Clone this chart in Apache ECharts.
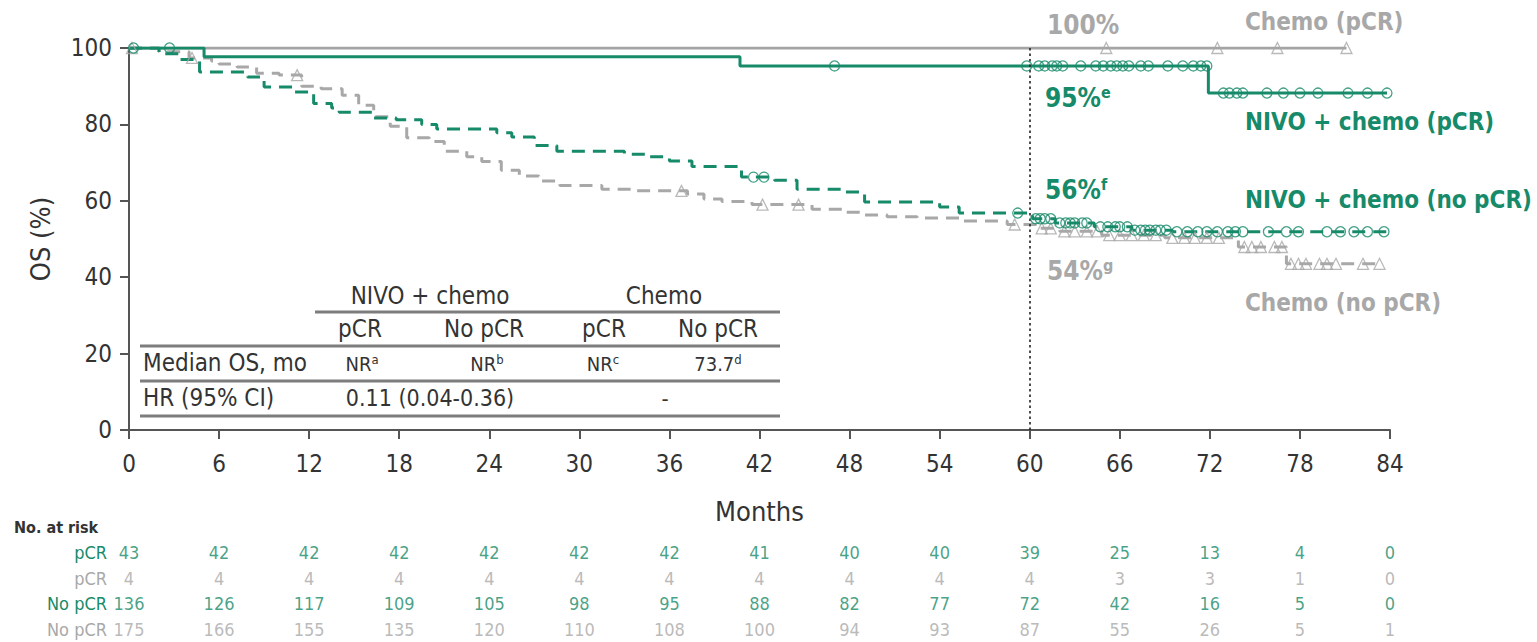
<!DOCTYPE html>
<html>
<head>
<meta charset="utf-8">
<script src="https://cdn.jsdelivr.net/npm/echarts@6/dist/echarts.min.js"></script>
<style>
html,body{margin:0;padding:0;background:#fff;}
#chart{width:1537px;height:642px;}
</style>
</head>
<body>
<div id="chart"></div>
<script>
// ---------------- DATA ----------------
const xTicks = [0, 6, 12, 18, 24, 30, 36, 42, 48, 54, 60, 66, 72, 78, 84];
const yTicks = [0, 20, 40, 60, 80, 100];

// Kaplan-Meier step curves (month of event, OS % after event)
const nivoPcrTime = [0, 5.0, 40.7, 71.9, 83.8];
const nivoPcrOS   = [100, 97.7, 95.3, 88.2, 88.2];

const chemoPcrTime = [0, 81.1];
const chemoPcrOS   = [100, 100];

const nivoNoTime = [0, 2.0, 3.3, 4.7, 7.9, 9.0, 11.0, 12.3, 13.5, 14.0, 16.3, 17.8, 19.5, 20.5, 24.5, 25.5, 27.0, 28.5, 33.0, 34.5, 36.0, 37.5, 40.8, 43.0, 44.5, 47.5, 49.0, 54.0, 55.3, 60.2, 61.7, 64.3, 66.8, 69.5, 83.8];
const nivoNoOS   = [100, 98.5, 97.0, 93.7, 92.4, 89.8, 88.5, 85.5, 84.3, 83.2, 81.7, 81.2, 80.0, 78.8, 77.8, 76.7, 74.5, 73.0, 72.2, 71.5, 70.4, 69.0, 66.2, 65.4, 63.0, 62.3, 59.7, 58.4, 56.8, 55.3, 54.2, 53.2, 52.3, 51.9, 51.9];

const chemoNoTime = [0, 2.0, 4.0, 5.5, 6.0, 7.2, 8.5, 10.0, 11.5, 12.8, 14.2, 15.3, 16.3, 17.4, 18.5, 20.0, 21.0, 22.5, 23.5, 24.8, 26.0, 27.3, 28.7, 31.5, 33.5, 37.2, 38.3, 39.5, 41.5, 45.5, 47.5, 49.0, 50.5, 52.5, 55.3, 58.5, 60.5, 62.0, 64.8, 69.0, 73.9, 77.1, 83.3];
const chemoNoOS   = [100, 99.0, 97.4, 96.6, 95.8, 95.0, 93.4, 92.9, 90.0, 89.3, 87.6, 85.0, 82.0, 79.5, 76.5, 75.5, 73.0, 71.5, 70.3, 68.0, 66.5, 65.2, 64.0, 63.0, 62.6, 61.8, 60.5, 59.8, 59.0, 57.8, 57.0, 56.3, 55.8, 55.5, 54.7, 53.8, 52.8, 52.0, 51.0, 50.3, 47.9, 43.5, 43.5];

// Censor marks [month, OS %]
const nivoPcrCensor = [[0.3,100],[2.7,100],[47.0,95.3],[59.8,95.3],[60.6,95.3],[61.0,95.3],[61.5,95.3],[61.8,95.3],[62.2,95.3],[63.4,95.3],[64.4,95.3],[64.9,95.3],[65.4,95.3],[65.8,95.3],[66.2,95.3],[66.6,95.3],[67.4,95.3],[67.9,95.3],[69.2,95.3],[70.2,95.3],[70.9,95.3],[71.4,95.3],[71.8,95.3],[72.9,88.2],[73.3,88.2],[73.8,88.2],[74.2,88.2],[75.8,88.2],[76.9,88.2],[78.0,88.2],[79.2,88.2],[81.2,88.2],[82.5,88.2],[83.8,88.2]];
const chemoPcrCensor = [[65.1,100],[72.5,100],[76.5,100],[81.1,100]];
const nivoNoCensor = [[41.6,66.2],[42.3,66.2],[59.2,56.8],[60.4,55.3],[60.7,55.3],[61.0,55.3],[61.4,55.3],[62.0,54.2],[62.4,54.2],[62.7,54.2],[63.0,54.2],[63.5,54.2],[63.8,54.2],[64.7,53.2],[65.2,53.2],[65.7,53.2],[66.0,53.2],[66.5,53.2],[67.0,52.3],[67.4,52.3],[67.7,52.3],[68.0,52.3],[68.4,52.3],[68.7,52.3],[69.1,52.3],[69.8,51.9],[70.5,51.9],[71.2,51.9],[71.8,51.9],[72.5,51.9],[73.2,51.9],[73.7,51.9],[74.2,51.9],[75.9,51.9],[77.1,51.9],[77.9,51.9],[79.8,51.9],[80.7,51.9],[81.6,51.9],[82.5,51.9],[83.6,51.9]];
const chemoNoCensor = [[0.2,100],[4.2,97.4],[11.2,92.9],[36.8,62.6],[42.2,59.0],[44.6,59.0],[59.0,53.8],[60.8,52.8],[61.4,52.8],[62.3,52.0],[63.0,52.0],[63.8,52.0],[64.5,52.0],[65.3,51.0],[66.0,51.0],[66.8,51.0],[67.6,51.0],[68.4,51.0],[69.5,50.3],[70.3,50.3],[71.0,50.3],[71.8,50.3],[72.6,50.3],[74.3,47.9],[74.8,47.9],[75.4,47.9],[76.3,47.9],[76.8,47.9],[77.4,43.5],[77.9,43.5],[78.4,43.5],[79.3,43.5],[79.8,43.5],[80.4,43.5],[82.2,43.5],[83.3,43.5]];

// Number at risk
const riskRows = ['nivoPcr', 'chemoPcr', 'nivoNo', 'chemoNo'];
const riskRowLabels = ['pCR', 'pCR', 'No pCR', 'No pCR'];
const nivoPcrRisk  = [43, 42, 42, 42, 42, 42, 42, 41, 40, 40, 39, 25, 13, 4, 0];
const chemoPcrRisk = [4, 4, 4, 4, 4, 4, 4, 4, 4, 4, 4, 3, 3, 1, 0];
const nivoNoRisk   = [136, 126, 117, 109, 105, 98, 95, 88, 82, 77, 72, 42, 16, 5, 0];
const chemoNoRisk  = [175, 166, 155, 135, 120, 110, 108, 100, 94, 93, 87, 55, 26, 5, 1];

// Landmark
const landmarkMonth = 60;

// ---------------- STYLE ----------------
const GREEN = '#178a69';
const GRAY = '#a8a8a8';
const DARK = '#333333';
const FF = "'DejaVu Sans Condensed', 'DejaVu Sans', sans-serif";

const pairs = (t, v) => t.map((x, i) => [x, v[i]]);

function kmLine(name, data, color, dashed, z) {
  return {
    name, type: 'line', xAxisIndex: 0, yAxisIndex: 0,
    data, step: 'end', symbol: 'none', z,
    lineStyle: { color, width: 3, type: dashed ? [13, 8] : 'solid' },
    silent: true
  };
}
function censor(name, data, color, symbol, size) {
  return {
    name, type: 'scatter', xAxisIndex: 0, yAxisIndex: 0,
    data, symbol, symbolSize: size, z: 5, silent: true,
    itemStyle: { color: 'rgba(255,255,255,0)', borderColor: color, borderWidth: 1.3 }
  };
}
function riskSeries(row, counts, color) {
  return {
    type: 'scatter', xAxisIndex: 1, yAxisIndex: 1, silent: true,
    data: xTicks.map((m, i) => [m, row, counts[i]]),
    symbolSize: 1, itemStyle: { color: 'rgba(0,0,0,0)' },
    label: {
      show: true, position: 'inside', formatter: p => String(p.value[2]),
      color, fontSize: 18, fontFamily: FF, fontWeight: 'normal'
    }
  };
}

function txt(x, y, text, color, size, weight, align, rich) {
  const st = { text, x, y, fill: color, fontSize: size, fontFamily: FF, fontWeight: weight || 'normal',
               align: align || 'left', verticalAlign: 'middle' };
  if (rich) st.rich = rich;
  return { type: 'text', style: st, z: 20 };
}
function supRich(color, size) {
  return {
    a: { fill: color, fontSize: size, fontWeight: 'bold', fontFamily: FF },
    s: { fill: color, fontSize: Math.round(size * 0.62), fontWeight: 'bold', fontFamily: FF, padding: [0, 0, 11, 0] }
  };
}
function valRich(color) {
  return {
    a: { fill: color, fontSize: 20, fontFamily: FF },
    s: { fill: color, fontSize: 13, fontFamily: FF, padding: [0, 0, 9, 0] }
  };
}
function hline(x1, x2, y) {
  return { type: 'line', shape: { x1, y1: y, x2, y2: y }, style: { stroke: '#7d7d7d', lineWidth: 2.8 }, z: 20 };
}

const chart = echarts.init(document.getElementById('chart'), null, { renderer: 'svg' });

const graphics = [
  // right-side labels
  txt(1047, 25, '100%', GRAY, 26, 'bold'),
  txt(1245, 22, 'Chemo (pCR)', GRAY, 24, 'bold'),
  txt(1045, 98, '{a|95%}{s|e}', GREEN, 26, 'bold', 'left', supRich(GREEN, 26)),
  txt(1245, 122, 'NIVO + chemo (pCR)', GREEN, 24, 'bold'),
  txt(1045, 190, '{a|56%}{s|f}', GREEN, 26, 'bold', 'left', supRich(GREEN, 26)),
  txt(1245, 200, 'NIVO + chemo (no pCR)', GREEN, 24, 'bold'),
  txt(1047, 271, '{a|54%}{s|g}', GRAY, 26, 'bold', 'left', supRich(GRAY, 26)),
  txt(1245, 303, 'Chemo (no pCR)', GRAY, 24, 'bold'),
  // embedded table
  txt(430, 296, 'NIVO + chemo', DARK, 24, 'normal', 'center'),
  txt(664, 296, 'Chemo', DARK, 24, 'normal', 'center'),
  hline(315, 780, 312),
  txt(360, 329, 'pCR', DARK, 24, 'normal', 'center'),
  txt(484, 329, 'No pCR', DARK, 24, 'normal', 'center'),
  txt(604, 329, 'pCR', DARK, 24, 'normal', 'center'),
  txt(718, 329, 'No pCR', DARK, 24, 'normal', 'center'),
  hline(140, 780, 346),
  txt(143, 363, 'Median OS, mo', DARK, 24, 'normal', 'left'),
  txt(362, 364, '{a|NR}{s|a}', DARK, 20, 'normal', 'center', valRich(DARK)),
  txt(487, 364, '{a|NR}{s|b}', DARK, 20, 'normal', 'center', valRich(DARK)),
  txt(603, 364, '{a|NR}{s|c}', DARK, 20, 'normal', 'center', valRich(DARK)),
  txt(718, 364, '{a|73.7}{s|d}', DARK, 20, 'normal', 'center', valRich(DARK)),
  hline(140, 780, 381),
  txt(143, 398, 'HR (95% CI)', DARK, 24, 'normal', 'left'),
  txt(430, 398, '0.11 (0.04-0.36)', DARK, 23, 'normal', 'center'),
  txt(665, 398, '-', DARK, 22, 'normal', 'center'),
  hline(140, 780, 416),
  // at-risk title
  txt(14, 527, 'No. at risk', DARK, 16, 'bold', 'left')
];

const option = {
  animation: false,
  backgroundColor: '#ffffff',
  grid: [
    { left: 129, right: 147, top: 48, bottom: 212, containLabel: false },
    { left: 129, right: 147, top: 540, height: 103, containLabel: false }
  ],
  xAxis: [
    {
      type: 'value', gridIndex: 0, min: 0, max: 84, interval: 6,
      name: 'Months', nameLocation: 'middle', nameGap: 68,
      nameTextStyle: { color: DARK, fontSize: 27, fontFamily: FF },
      axisLine: { show: true, lineStyle: { color: '#555', width: 2 } },
      axisTick: { show: true, inside: false, length: 9, lineStyle: { color: '#555', width: 2 } },
      axisLabel: { color: DARK, fontSize: 24, fontFamily: FF, margin: 22 },
      splitLine: { show: false }
    },
    {
      type: 'value', gridIndex: 1, min: 0, max: 84, interval: 6, show: false
    }
  ],
  yAxis: [
    {
      type: 'value', gridIndex: 0, min: 0, max: 100, interval: 20,
      name: 'OS (%)', nameLocation: 'middle', nameGap: 75, nameRotate: 90,
      nameTextStyle: { color: DARK, fontSize: 27, fontFamily: FF },
      axisLine: { show: true, lineStyle: { color: '#555', width: 2 } },
      axisTick: { show: true, inside: false, length: 9, lineStyle: { color: '#555', width: 2 } },
      axisLabel: { color: DARK, fontSize: 24, fontFamily: FF, margin: 17 },
      splitLine: { show: false }
    },
    {
      type: 'category', gridIndex: 1, data: riskRows, inverse: true,
      axisLine: { show: false }, axisTick: { show: false }, splitLine: { show: false },
      axisLabel: {
        margin: 22, fontSize: 18, fontFamily: FF,
        formatter: (v) => riskRowLabels[riskRows.indexOf(v)],
        color: (v) => (v === 'nivoPcr' || v === 'nivoNo') ? GREEN : GRAY,
        fontWeight: 'normal'
      }
    }
  ],
  series: [
    Object.assign(kmLine('Chemo (pCR)', pairs(chemoPcrTime, chemoPcrOS), '#a4a4a4', false, 2), {
      markLine: {
        silent: true, symbol: ['none', 'none'], animation: false,
        label: { show: false },
        lineStyle: { type: [2.5, 3], color: '#222', width: 1.6 },
        data: [{ xAxis: landmarkMonth }]
      }
    }),
    kmLine('Chemo (no pCR)', pairs(chemoNoTime, chemoNoOS), GRAY, true, 3),
    kmLine('NIVO + chemo (no pCR)', pairs(nivoNoTime, nivoNoOS), GREEN, true, 4),
    kmLine('NIVO + chemo (pCR)', pairs(nivoPcrTime, nivoPcrOS), GREEN, false, 4),
    censor('c1', chemoPcrCensor, GRAY, 'triangle', 11),
    censor('c2', chemoNoCensor, GRAY, 'triangle', 11),
    censor('c3', nivoNoCensor, GREEN, 'circle', 10),
    censor('c4', nivoPcrCensor, GREEN, 'circle', 10),
    riskSeries('nivoPcr', nivoPcrRisk, GREEN),
    riskSeries('chemoPcr', chemoPcrRisk, GRAY),
    riskSeries('nivoNo', nivoNoRisk, GREEN),
    riskSeries('chemoNo', chemoNoRisk, GRAY)
  ],
  graphic: graphics
};
chart.setOption(option);
</script>
</body>
</html>
